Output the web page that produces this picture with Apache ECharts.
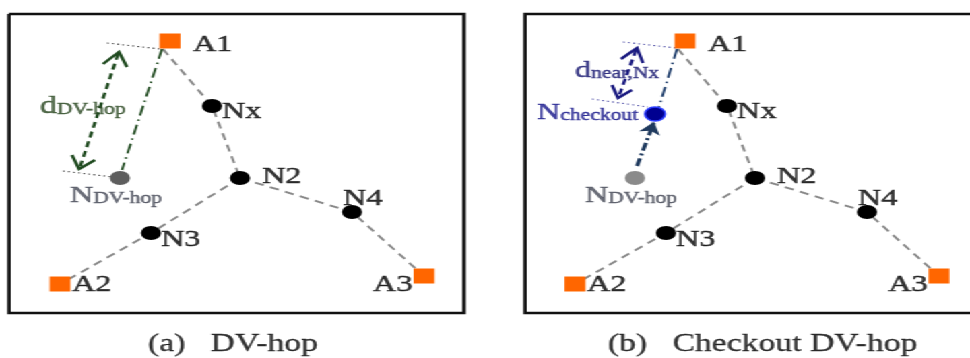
<!DOCTYPE html>
<html><head><meta charset="utf-8">
<script src="https://cdn.jsdelivr.net/npm/echarts@6/dist/echarts.min.js"></script>
<style>
html,body{margin:0;padding:0;background:#fff;overflow:hidden;width:970px;height:358px}
#wrap{width:720px;height:358px;transform:scaleX(1.347222);transform-origin:0 0}
#c{width:720px;height:358px}
</style></head>
<body><div id="wrap"><div id="c"></div></div>
<script>
// ---- diagram data (reference-pixel coordinates, panel (a); panel (b) is shifted) ----
const panelShift = [0, 515];
const anchorNames = ['A1', 'A2', 'A3'];
const anchorPos = [[170, 41], [60, 284], [424, 276]];
const anchorLabelPos = [[193, 45], [72, 285], [373, 285]];
const nodeNames = ['Nx', 'N2', 'N3', 'N4'];
const nodePos = [[212, 106], [240, 178], [151, 233], [352, 212]];
const nodeLabelPos = [[222, 112], [262, 177], [161, 240], [343, 199]];
const a1Foot = [163, 49];
const paths = [['A1', 'Nx', 'N2'], ['N2', 'N4', 'A3'], ['N2', 'N3', 'A2']];
const estPos = [120, 178];            // N DV-hop estimate
const estLabelPos = [70, 196];
const checkoutPos = [655, 114];       // N checkout (panel b only)
const checkoutLabelPos = [537, 113];
const dDvLabelPos = [40, 106];
const dNearLabelPos = [575, 71];
const dottedA = [[[107, 43], [160, 49]], [[63, 171], [113, 177]]];
const dottedB = [[[623, 42], [676, 48]], [[592, 99], [648, 107]]];
const dashDotA = [[162, 49], [122, 170]];
const dashDotB = [[677, 49], [659, 107]];
const dblShaftA = [[118, 54], [80, 167]];
const dblHeadsA = [[[103, 64], [119, 52], [127, 67]], [[72, 155], [79, 169], [95, 160]]];
const dblShaftB = [[636, 50], [619, 96]];
const dblHeadsB = [[[621, 59], [637, 48], [643, 63]], [[612, 85], [618, 98], [632, 90]]];
const moveArrowB = [[637, 166], [654, 122]];
const boxA = [[9, 14], [464, 14], [464, 313], [9, 313], [9, 14]];
const boxB = [[985, 14], [525, 14], [525, 313], [985, 313]];
const captions = ['(a)   DV-hop', '(b)   Checkout DV-hop'];
const captionPos = [[148, 344], [608, 344]];

const SERIF = '"Liberation Serif", "Times New Roman", serif';
const sh = (p, dx) => [p[0] + dx, p[1]];
const posOf = name => {
  const ai = anchorNames.indexOf(name);
  if (ai >= 0) return name === 'A1' ? a1Foot : anchorPos[ai];
  return nodePos[nodeNames.indexOf(name)];
};

const netLines = [];
panelShift.forEach(dx => paths.forEach(p => netLines.push({ coords: p.map(n => sh(posOf(n), dx)) })));

const anchorsData = [], nodesData = [];
panelShift.forEach(dx => {
  anchorPos.forEach(p => anchorsData.push(sh(p, dx)));
  nodePos.forEach(p => nodesData.push(sh(p, dx)));
});

function lbl(pos, fmt, rich) {
  return { value: pos, label: { formatter: fmt, rich: rich } };
}
function tstyle(color, size, extra) {
  return Object.assign({ fontFamily: SERIF, fontSize: size, color: color,
    textBorderColor: color, textBorderWidth: 0.45 }, extra || {});
}
function richBS(color, big, small) {
  return {
    b: tstyle(color, big),
    s: tstyle(color, small, { verticalAlign: 'bottom', padding: [0, 0, 1, 0] })
  };
}
const plainRich = { t: tstyle('#000', 24) };
const labels = [];
panelShift.forEach(dx => {
  anchorNames.forEach((n, i) => labels.push(lbl(sh(anchorLabelPos[i], dx), '{t|' + n + '}', plainRich)));
  nodeNames.forEach((n, i) => labels.push(lbl(sh(nodeLabelPos[i], dx), '{t|' + n + '}', plainRich)));
  labels.push(lbl(sh(estLabelPos, dx), '{b|N}{s|DV-hop}', richBS('#454856', 24, 16)));
});
labels.push(lbl(dDvLabelPos, '{b|d}{s|DV-hop}', richBS('#28461f', 25, 16)));
labels.push(lbl(checkoutLabelPos, '{b|N}{s|checkout}', richBS('#14148a', 24, 16)));
labels.push(lbl(dNearLabelPos, '{b|d}{s|near,Nx}', richBS('#161670', 24, 16)));
const capRich = { t: tstyle('#000', 25, { textBorderWidth: 0.3 }) };
captions.forEach((c, i) => labels.push(lbl(captionPos[i], '{t|' + c + '}', capRich)));

const chart = echarts.init(document.getElementById('c'), null, { renderer: 'canvas' });
chart.setOption({
  animation: false,
  backgroundColor: '#fff',
  grid: { left: 0, right: 0, top: 0, bottom: 0 },
  xAxis: { type: 'value', min: 0, max: 970, show: false },
  yAxis: { type: 'value', min: 0, max: 358, inverse: true, show: false },
  series: [
    { type: 'lines', coordinateSystem: 'cartesian2d', polyline: true, silent: true, z: 1,
      lineStyle: { color: '#111', width: 2.6, type: 'solid', opacity: 1 },
      data: [{ coords: boxA }, { coords: boxB }] },
    { type: 'lines', coordinateSystem: 'cartesian2d', polyline: true, silent: true, z: 2,
      lineStyle: { color: '#888', width: 1.9, type: [7, 5], opacity: 1 },
      data: netLines },
    { type: 'lines', coordinateSystem: 'cartesian2d', polyline: true, silent: true, z: 2,
      lineStyle: { width: 1.1, type: [1.4, 2.4], opacity: 1 },
      data: dottedA.map(c => ({ coords: c, lineStyle: { color: '#444' } }))
        .concat(dottedB.map(c => ({ coords: c, lineStyle: { color: '#5555aa' } }))) },
    { type: 'lines', coordinateSystem: 'cartesian2d', polyline: true, silent: true, z: 2,
      lineStyle: { width: 1.8, type: [10, 4, 1.5, 4], opacity: 1 },
      data: [{ coords: dashDotA, lineStyle: { color: '#234d23' } }, { coords: dashDotB, lineStyle: { color: '#1e3d6b' } }] },
    { type: 'lines', coordinateSystem: 'cartesian2d', polyline: true, silent: true, z: 2,
      lineStyle: { width: 2.4, type: [6, 4], opacity: 1 },
      data: [{ coords: dblShaftA, lineStyle: { color: '#1f4a1f' } }, { coords: dblShaftB, lineStyle: { color: '#1a1a80' } }] },
    { type: 'lines', coordinateSystem: 'cartesian2d', polyline: true, silent: true, z: 2,
      lineStyle: { width: 2.4, type: 'solid', opacity: 1, join: 'miter' },
      data: dblHeadsA.map(c => ({ coords: c, lineStyle: { color: '#1f4a1f' } }))
        .concat(dblHeadsB.map(c => ({ coords: c, lineStyle: { color: '#1a1a80' } }))) },
    { type: 'lines', coordinateSystem: 'cartesian2d', silent: true, z: 2,
      symbol: ['none', 'arrow'], symbolSize: 12,
      lineStyle: { width: 3, type: [8, 3, 2, 3], color: '#1f3a5e', opacity: 1 },
      data: [{ coords: moveArrowB }] },
    { type: 'scatter', silent: true, z: 5, symbol: 'rect', symbolSize: [15.5, 15],
      itemStyle: { color: '#ff6600', opacity: 1 }, data: anchorsData },
    { type: 'scatter', silent: true, z: 5, symbol: 'circle', symbolSize: [15, 14],
      itemStyle: { color: '#000', opacity: 1 }, data: nodesData },
    { type: 'scatter', silent: true, z: 5, symbol: 'circle', symbolSize: [15, 14],
      data: [{ value: estPos, itemStyle: { color: '#5e5e5e', opacity: 1 } },
             { value: sh(estPos, 515), itemStyle: { color: '#8a8a8a', opacity: 1 } }] },
    { type: 'scatter', silent: true, z: 5, symbol: 'circle', symbolSize: [15, 14],
      itemStyle: { color: '#000090', borderColor: '#2a3cff', borderWidth: 1.5, opacity: 1 }, data: [checkoutPos] },
    { type: 'scatter', silent: true, z: 6, symbolSize: 0,
      label: { show: true, position: 'right', distance: 0, fontFamily: SERIF },
      data: labels }
  ]
});
</script></body></html>
